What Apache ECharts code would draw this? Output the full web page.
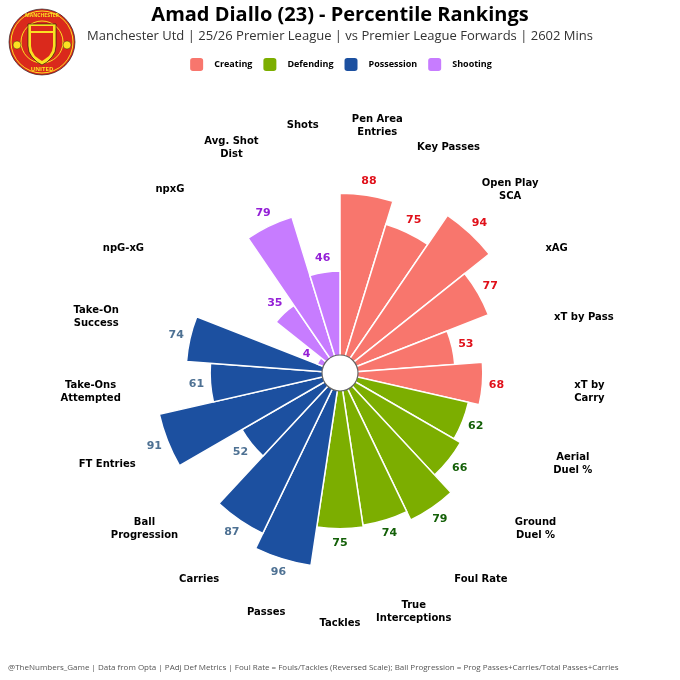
<!DOCTYPE html>
<html>
<head>
<meta charset="utf-8">
<script src="https://cdn.jsdelivr.net/npm/echarts@6/dist/echarts.min.js"></script>
<style>
html,body{margin:0;padding:0;background:#fff;}
#chart{width:680px;height:680px;}
</style>
</head>
<body>
<div id="chart"></div>
<script>
// ---- data ----
const categories = [
  'Pen Area\nEntries','Key Passes','Open Play\nSCA','xAG','xT by Pass','xT by\nCarry',
  'Aerial\nDuel %','Ground\nDuel %','Foul Rate','True\nInterceptions','Tackles',
  'Passes','Carries','Ball\nProgression','FT Entries','Take-Ons\nAttempted','Take-On\nSuccess',
  'npG-xG','npxG','Avg. Shot\nDist','Shots'
];
const values = [88,75,94,77,53,68, 62,66,79,74,75, 96,87,52,91,61,74, 4,35,79,46];
const groupOf = [
  'Creating','Creating','Creating','Creating','Creating','Creating',
  'Defending','Defending','Defending','Defending','Defending',
  'Possession','Possession','Possession','Possession','Possession','Possession',
  'Shooting','Shooting','Shooting','Shooting'
];
const groupNames = ['Creating','Defending','Possession','Shooting'];
const barColors = ['#F8766D','#7CAE00','#1C50A0','#C77CFF'];
const valueColors = ['#E0101A','#146008','#4E7193','#9420D6'];
const titleText = 'Amad Diallo (23) - Percentile Rankings';
const subtitleText = 'Manchester Utd | 25/26 Premier League | vs Premier League Forwards | 2602 Mins';
const footerText = '@TheNumbers_Game | Data from Opta | PAdj Def Metrics | Foul Rate = Fouls/Tackles (Reversed Scale); Ball Progression = Prog Passes+Carries/Total Passes+Carries';

// ---- layout constants ----
const FONT = "'Open Sans', sans-serif";
const LFONT = "'DejaVu Sans', sans-serif";
const CX = 340, CY = 373;
const R_IN = 17, R_MAX_VAL = 140, PX_PER_UNIT = 1.85;
const R_OUT = R_IN + PX_PER_UNIT * R_MAX_VAL;
const LABEL_R_VAL = 126;   // category labels radius (value units)
const VALUE_OFFSET = 7.6;  // value label offset beyond bar end

const chart = echarts.init(document.getElementById('chart'), null, {renderer: 'canvas'});

const barSeries = groupNames.map((g, gi) => ({
  type: 'bar',
  name: g,
  coordinateSystem: 'polar',
  stack: 'all',
  barCategoryGap: '0%',
  silent: true,
  itemStyle: {color: barColors[gi], borderColor: '#ffffff', borderWidth: 1.5},
  data: values.map((v, i) => groupOf[i] === g ? v : '-'),
  z: 2
}));

const valueLabelSeries = {
  type: 'scatter',
  coordinateSystem: 'polar',
  silent: true,
  symbolSize: 1,
  itemStyle: {color: 'rgba(0,0,0,0)'},
  data: values.map((v, i) => ({
    value: [v + VALUE_OFFSET, i],
    label: {
      show: true, position: 'inside', opacity: 1,
      formatter: String(v),
      color: valueColors[groupNames.indexOf(groupOf[i])],
      textBorderWidth: 0,
      fontFamily: LFONT, fontWeight: 'bold', fontSize: 11
    }
  })),
  z: 5
};

const catLabelSeries = {
  type: 'scatter',
  coordinateSystem: 'polar',
  silent: true,
  symbolSize: 1,
  itemStyle: {color: 'rgba(0,0,0,0)'},
  data: categories.map((c, i) => ({
    value: [LABEL_R_VAL, i],
    label: {
      show: true, position: 'inside', formatter: c, opacity: 1,
      color: '#000', textBorderWidth: 0,
      fontFamily: LFONT, fontWeight: 'bold', fontSize: 10,
      lineHeight: 13, align: 'center'
    }
  })),
  z: 5
};

const shieldOuter = [[-14,-18],[14,-18],[14,4],[13,10],[10,15],[5,20],[0,23],[-5,20],[-10,15],[-13,10],[-14,4]];
const shieldInner = [[-11,-9],[11,-9],[11,4],[10,9],[7,14],[3,17],[0,19],[-3,17],[-7,14],[-10,9],[-11,4]];

const option = {
  backgroundColor: '#ffffff',
  animation: false,
  title: {
    text: titleText,
    subtext: subtitleText,
    left: 'center',
    top: 0,
    itemGap: 5,
    textStyle: {fontFamily: FONT, fontWeight: 'bold', fontSize: 20, color: '#000'},
    subtextStyle: {fontFamily: FONT, fontSize: 13, color: '#333'}
  },
  legend: {
    data: groupNames,
    top: 51,
    left: 'center',
    icon: 'roundRect',
    itemWidth: 15,
    itemHeight: 15,
    itemGap: 9,
    textStyle: {fontFamily: FONT, fontWeight: 'bold', fontSize: 9, color: '#000', padding: [0, 0, 0, 5]}
  },
  polar: {center: [CX, CY], radius: [R_IN, R_OUT]},
  angleAxis: {
    type: 'category',
    data: categories,
    startAngle: 90,
    clockwise: true,
    axisLine: {show: false}, axisTick: {show: false},
    axisLabel: {show: false}, splitLine: {show: false}
  },
  radiusAxis: {
    type: 'value', min: 0, max: R_MAX_VAL,
    axisLine: {show: false}, axisTick: {show: false},
    axisLabel: {show: false}, splitLine: {show: false}
  },
  graphic: [
    {type: 'circle', shape: {cx: CX, cy: CY, r: 18}, style: {fill: '#fff', stroke: '#666', lineWidth: 1.2}, z: 20, silent: true},
    // crest (simplified)
    {type: 'group', x: 42, y: 42, z: 20, silent: true, children: [
      {type: 'circle', shape: {cx: 0, cy: 0, r: 33}, style: {fill: '#DA291C', stroke: '#111', lineWidth: 0.6}},
      {type: 'circle', shape: {cx: 0, cy: 0, r: 31}, style: {fill: 'none', stroke: '#FBE122', lineWidth: 1}},
      {type: 'circle', shape: {cx: 0, cy: 0, r: 21}, style: {fill: 'none', stroke: '#FBE122', lineWidth: 1}},
      {type: 'circle', shape: {cx: -25, cy: 3, r: 4}, style: {fill: '#FBE122', stroke: '#111', lineWidth: 0.4}},
      {type: 'circle', shape: {cx: 25, cy: 3, r: 4}, style: {fill: '#FBE122', stroke: '#111', lineWidth: 0.4}},
      {type: 'polygon', shape: {points: shieldOuter}, style: {fill: '#FBE122', stroke: '#111', lineWidth: 0.6}},
      {type: 'polygon', shape: {points: shieldInner}, style: {fill: '#DA291C'}},
      {type: 'rect', shape: {x: -11, y: -16, width: 22, height: 5}, style: {fill: '#DA291C'}},
      {type: 'text', x: 0, y: -26, style: {text: 'MANCHESTER', fontSize: 5, fontWeight: 'bold', fill: '#FBE122', align: 'center', verticalAlign: 'middle', fontFamily: FONT}},
      {type: 'text', x: 0, y: 27, style: {text: 'UNITED', fontSize: 6, fontWeight: 'bold', fill: '#FBE122', align: 'center', verticalAlign: 'middle', fontFamily: FONT}}
    ]},
    {type: 'text', left: 8, top: 664, silent: true,
     style: {text: footerText, fontSize: 8, fill: '#555', fontFamily: FONT}}
  ],
  series: [...barSeries, valueLabelSeries, catLabelSeries]
};

chart.setOption(option);
</script>
</body>
</html>
